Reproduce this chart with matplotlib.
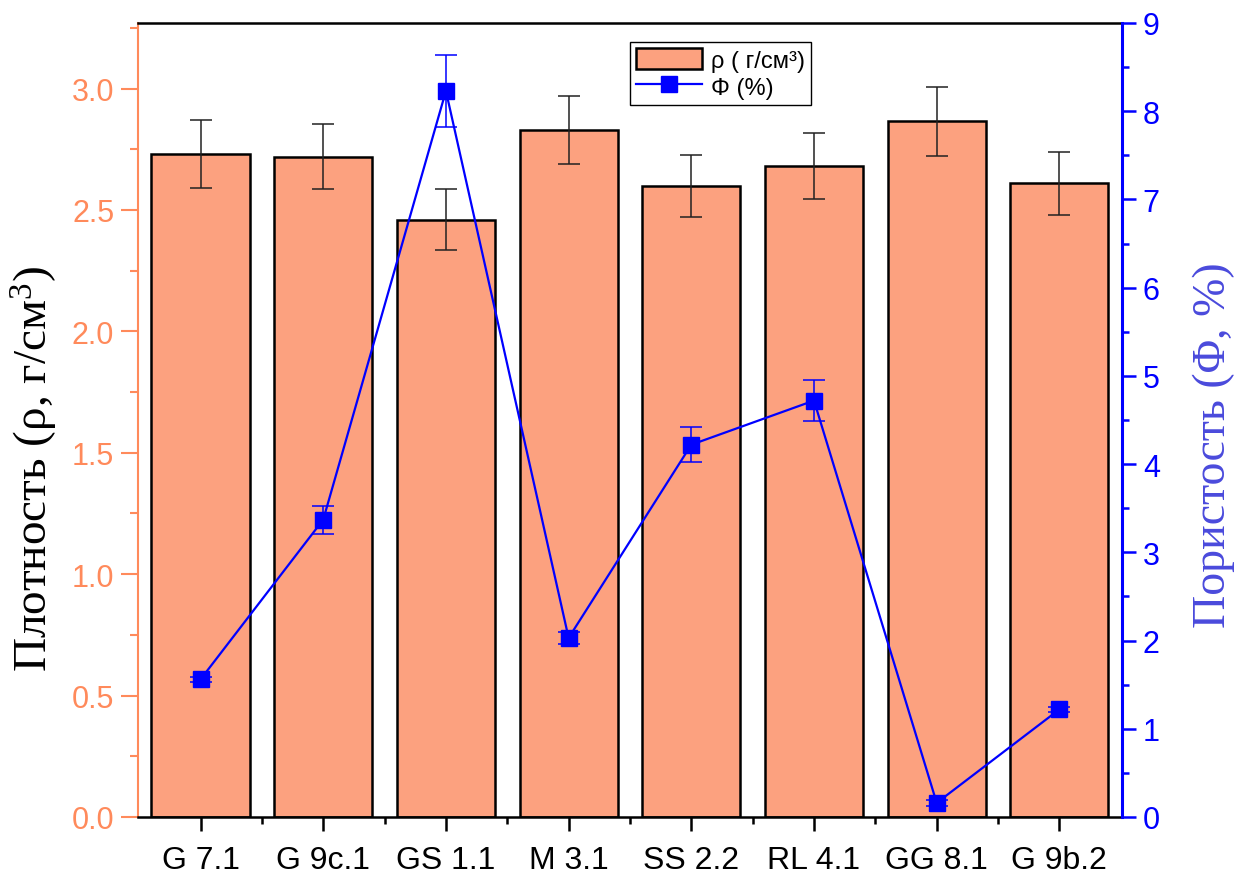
import matplotlib
matplotlib.use("Agg")
import matplotlib.pyplot as plt
from matplotlib.ticker import MultipleLocator, FixedLocator
import numpy as np

samples = ["G 7.1", "G 9c.1", "GS 1.1", "M 3.1", "SS 2.2", "RL 4.1", "GG 8.1", "G 9b.2"]
density = [2.73, 2.72, 2.46, 2.83, 2.60, 2.68, 2.865, 2.61]
density_err = [0.14, 0.135, 0.125, 0.14, 0.127, 0.135, 0.143, 0.13]
porosity = [1.56, 3.37, 8.23, 2.03, 4.22, 4.72, 0.16, 1.22]
porosity_err = [0.03, 0.16, 0.41, 0.07, 0.20, 0.23, 0.03, 0.03]

bar_color = "#FCA17F"
left_color = "#FF8A5B"
blue = "#0000FF"
label_blue = "#4A4ADC"
sans = ["Liberation Sans", "DejaVu Sans"]
serif = ["Liberation Serif", "DejaVu Serif"]

plt.rcParams["mathtext.fontset"] = "custom"
plt.rcParams["mathtext.rm"] = "Liberation Serif"
plt.rcParams["mathtext.it"] = "Liberation Serif:italic"

fig = plt.figure(figsize=(12.44, 8.79), dpi=100)
ax = fig.add_axes([0.1109, 0.0694, 0.7910, 0.9033])
x = np.arange(len(samples))

bars = ax.bar(x, density, width=0.8, color=bar_color, edgecolor="black",
              linewidth=1.8, zorder=2)
ax.errorbar(x, density, yerr=density_err, fmt="none", ecolor="#222222",
            elinewidth=1.1, capsize=8, capthick=1.1, zorder=3)

ax.set_xlim(-0.51, len(samples) - 0.49)
ax.set_ylim(0, 3.27)
ax.set_xticks(x)
ax.set_xticklabels(samples, family=sans, fontsize=23)
ax.xaxis.set_minor_locator(FixedLocator(x[:-1] + 0.5))
ax.yaxis.set_major_locator(MultipleLocator(0.5))
ax.yaxis.set_minor_locator(MultipleLocator(0.25))
ax.tick_params(axis="x", which="major", direction="out", length=10, width=1.8,
               pad=10, top=False)
ax.tick_params(axis="x", which="minor", direction="out", length=5, width=1.8, top=False)
ax.tick_params(axis="y", which="major", direction="out", length=12, width=1.5,
               color=left_color, labelcolor=left_color, labelsize=22, pad=5)
ax.tick_params(axis="y", which="minor", direction="out", length=6, width=1.5,
               color=left_color)
for lab in ax.get_yticklabels():
    lab.set_family(sans)
ax.spines["left"].set_color(left_color)
ax.spines["left"].set_linewidth(1.5)
for s in ("top", "bottom"):
    ax.spines[s].set_linewidth(1.8)
ax.spines["right"].set_visible(False)
ax.set_ylabel(r"Плотность (ρ, г/см$^3$)", family=serif, fontsize=34)
ax.yaxis.set_label_coords(-0.079, 0.44)

ax2 = ax.twinx()
ax2.set_ylim(0, 9)
line = ax2.errorbar(x, porosity, yerr=porosity_err, color=blue, marker="s",
                    markersize=11, linewidth=1.6, elinewidth=1.1, capsize=8,
                    capthick=1.1, zorder=4)
ax2.yaxis.set_major_locator(MultipleLocator(1))
ax2.yaxis.set_minor_locator(MultipleLocator(0.5))
ax2.tick_params(axis="y", which="major", direction="out", length=10, width=1.8,
                color=blue, labelcolor=blue, labelsize=22, pad=5)
ax2.tick_params(axis="y", which="minor", direction="out", length=5, width=1.8, color=blue)
# inward ticks along the top edge
ax2.tick_params(axis="x", which="major", direction="in", length=10, width=1.8,
                top=True, bottom=False, labeltop=False, labelbottom=False)
ax2.tick_params(axis="x", which="minor", direction="in", length=5, width=1.8,
                top=True, bottom=False)
for lab in ax2.get_yticklabels():
    lab.set_family(sans)
ax2.spines["right"].set_color(blue)
ax2.spines["right"].set_linewidth(2.2)
for s in ("top", "bottom", "left"):
    ax2.spines[s].set_visible(False)
ax2.set_ylabel("Пористость (Φ, %)", family=serif, fontsize=33, color=label_blue)
ax2.yaxis.set_label_coords(1.072, 0.47)

leg = ax2.legend([bars, line[0]], ["ρ ( г/см³)", "Φ (%)"], loc="upper left",
                 bbox_to_anchor=(0.5, 0.976), borderaxespad=0,
                 prop={"family": sans, "size": 17},
                 frameon=True, fancybox=False, edgecolor="black", framealpha=1,
                 borderpad=0.25, labelspacing=0.15, handlelength=2.8,
                 handleheight=1.0, handletextpad=0.4)
leg.get_frame().set_linewidth(1.0)

fig.savefig("out.png", dpi=100)
